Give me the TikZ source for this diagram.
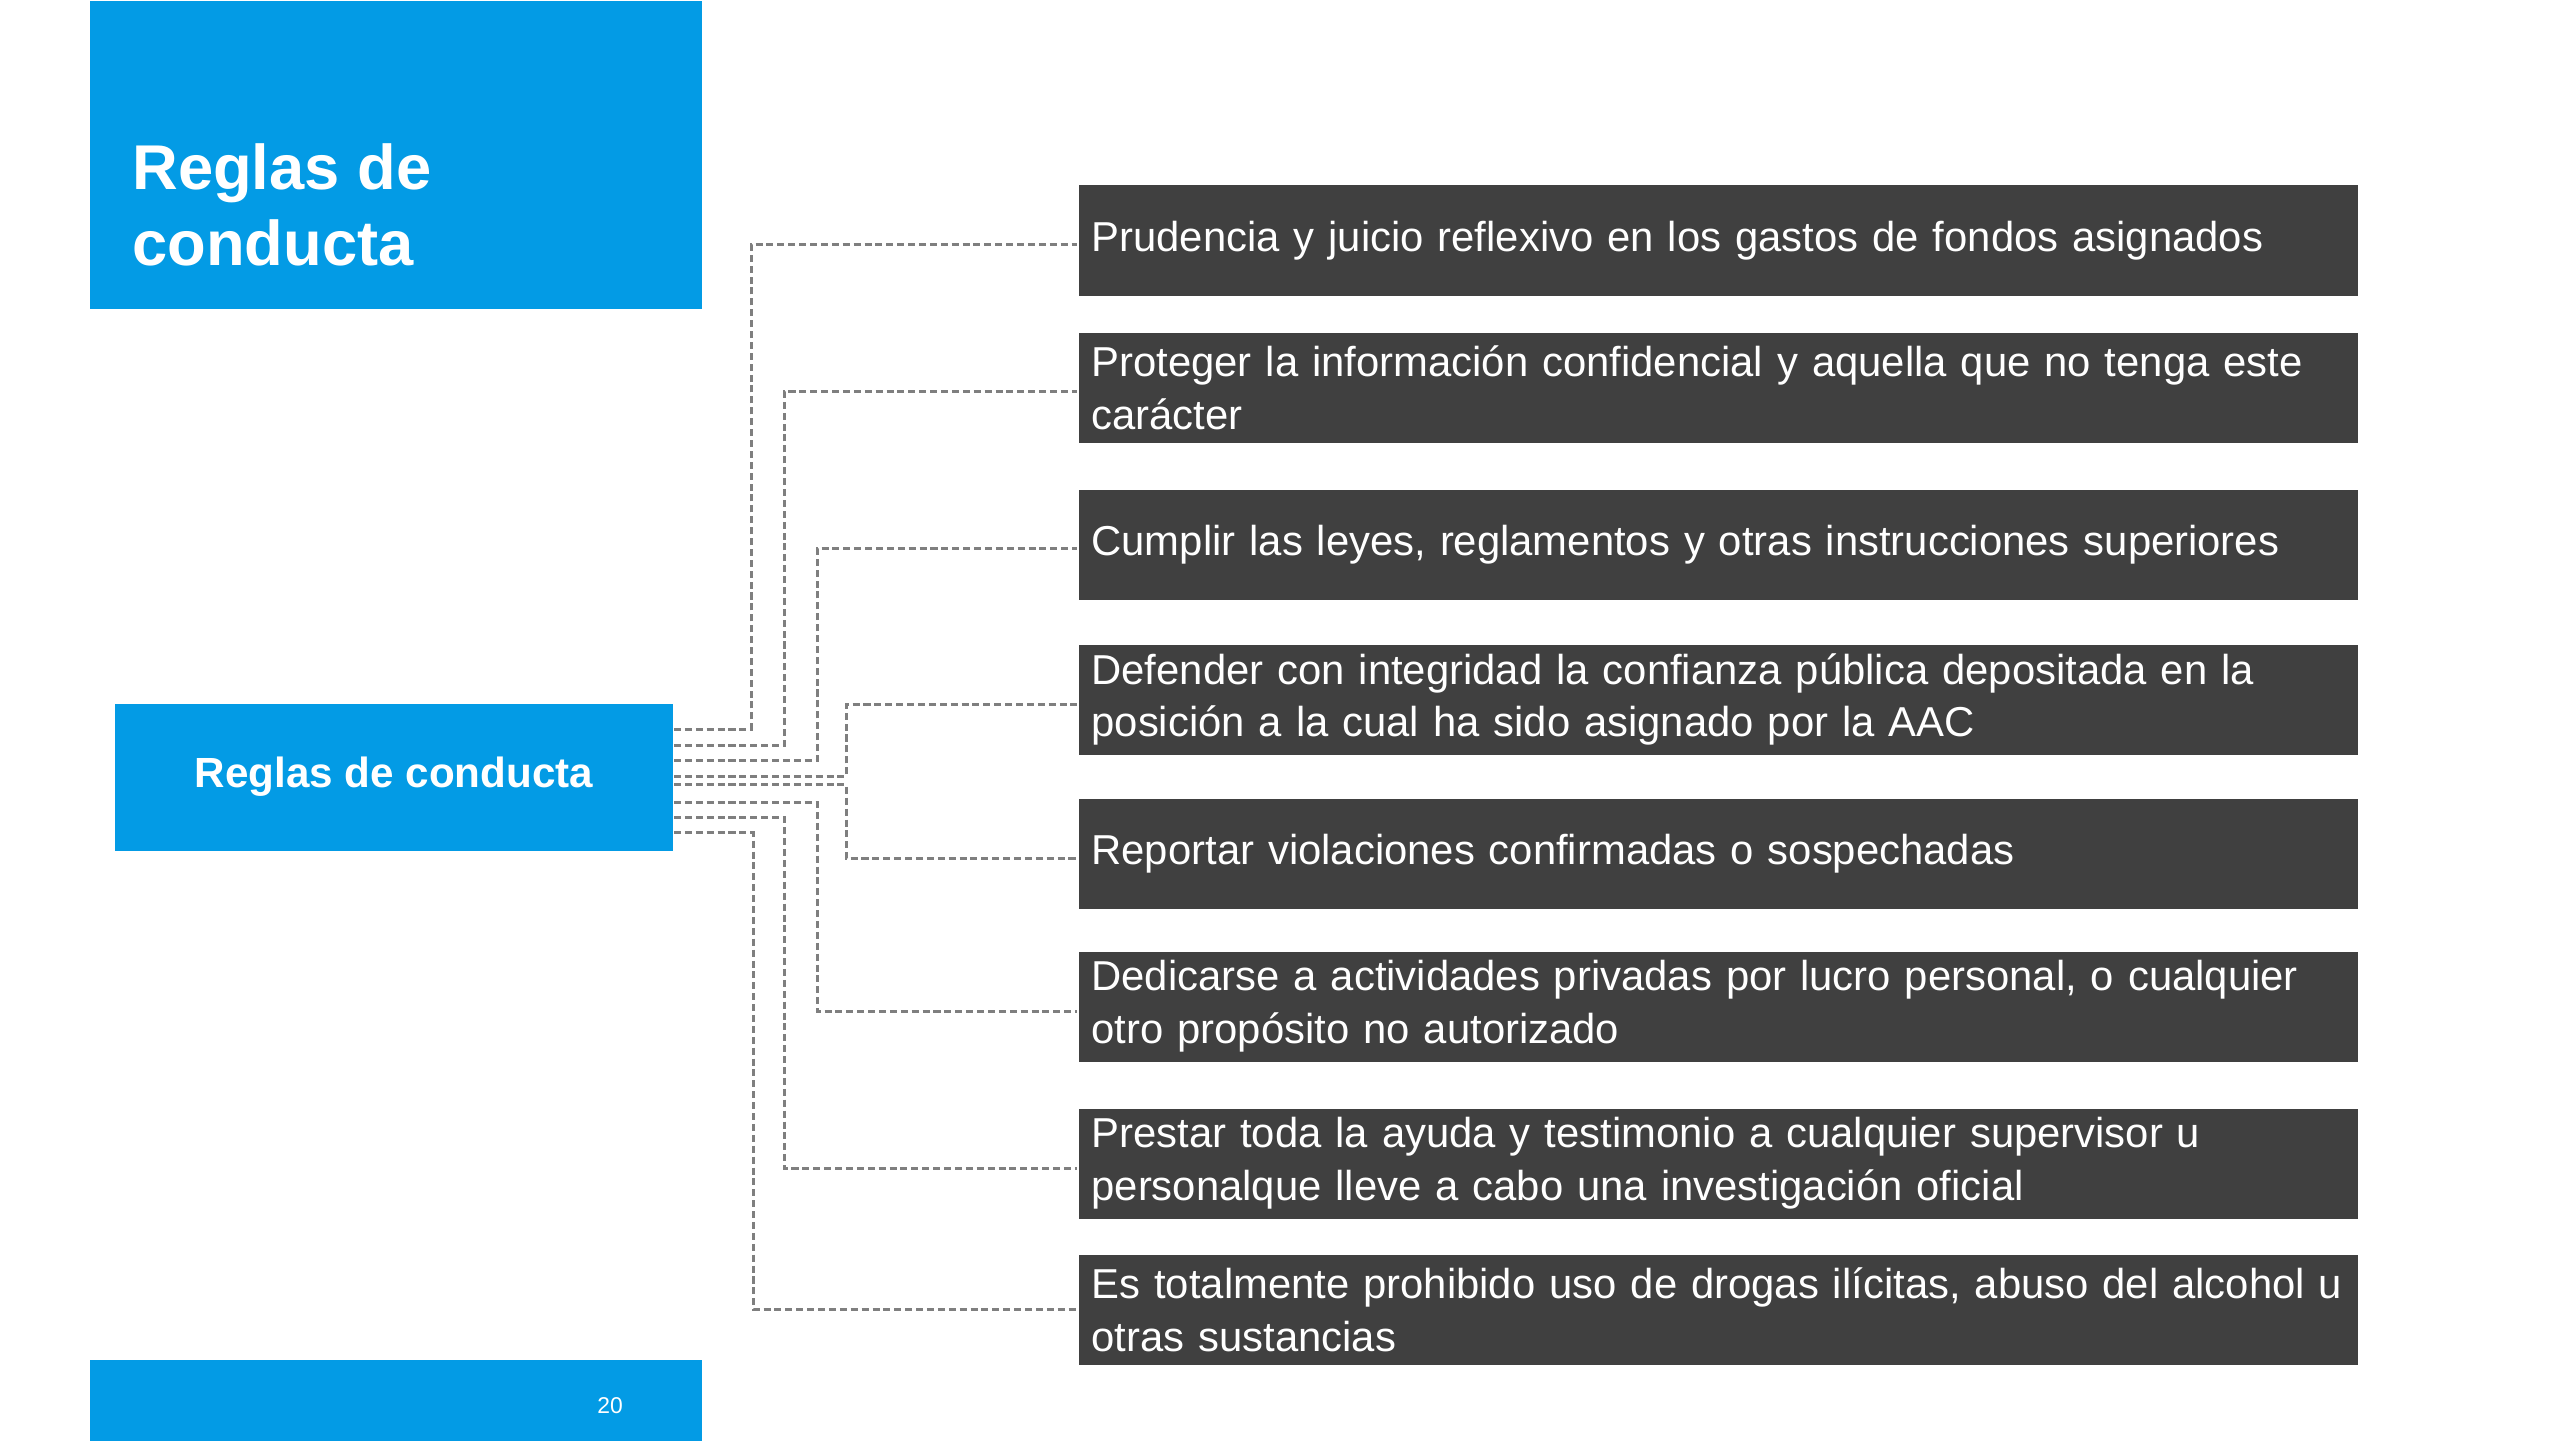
\documentclass[tikz,border=0pt]{standalone}
\usepackage{fontspec}
\setmainfont{Liberation Sans}
\definecolor{azul}{HTML}{039BE5}
\definecolor{gris}{HTML}{404040}
\definecolor{linea}{HTML}{7F7F7F}
\begin{document}
\begin{tikzpicture}[line width=0.85pt,
    azulbox/.style={fill=azul,inner sep=0pt,anchor=north west},
    caja/.style={fill=gris,text=white,anchor=north west,minimum height=1.1cm,inner xsep=1.3mm,inner ysep=0pt,text width=12.53cm,align=left,font=\fontsize{11.9}{15}\selectfont},
    link/.style={draw=linea,dash pattern=on 2pt off 1.1pt}]
    \useasboundingbox (0,0) rectangle (25.6,-14.4);
    \node[azulbox,minimum width=6.11cm,minimum height=3.07cm] (cab) at (0.89,0) {};
    \node[anchor=north west,inner sep=0pt,text=white,align=left,font=\bfseries\fontsize{18}{21.6}\selectfont] (titulo) at (1.31,-1.42) {Reglas de\\conducta};
    \node[azulbox,minimum width=6.11cm,minimum height=0.82cm] (pie) at (0.89,-13.58) {};
    \node[anchor=base,inner sep=0pt,text=white,font=\fontsize{6.5}{8}\selectfont] (num) at (6.10,-14.13) {20};
    \node[azulbox,minimum width=5.57cm,minimum height=1.47cm,text=white,font=\bfseries\fontsize{12}{14}\selectfont] (rc) at (1.14,-7.02) {Reglas de conducta};

    \node[caja] (p1) at (10.77,-1.84) {Prudencia y juicio reflexivo en los gastos de fondos asignados};
    \node[caja] (p2) at (10.77,-3.31) {Proteger la información confidencial y aquella que no tenga este\\carácter};
    \node[caja] (p3) at (10.77,-4.88) {Cumplir las leyes, reglamentos y otras instrucciones superiores};
    \node[caja] (p4) at (10.77,-6.43) {Defender con integridad la confianza pública depositada en la\\posición a la cual ha sido asignado por la AAC};
    \node[caja] (p5) at (10.77,-7.97) {Reportar violaciones confirmadas o sospechadas};
    \node[caja] (p6) at (10.77,-9.50) {Dedicarse a actividades privadas por lucro personal, o cualquier\\otro propósito no autorizado};
    \node[caja] (p7) at (10.77,-11.07) {Prestar toda la ayuda y testimonio a cualquier supervisor u\\personalque lleve a cabo una investigación oficial};
    \node[caja] (p8) at (10.77,-12.53) {\mbox{Es totalmente prohibido uso de drogas ilícitas, abuso del alcohol u}\\otras sustancias};

    \draw[link] ([yshift=4.75mm]rc.east) -| ([xshift=-3.26cm,yshift=-0.4mm]p1.west) -- ([yshift=-0.4mm]p1.west);
    \draw[link] ([yshift=3.15mm]rc.east) -| ([xshift=-2.93cm,yshift=-0.4mm]p2.west) -- ([yshift=-0.4mm]p2.west);
    \draw[link] ([yshift=1.65mm]rc.east) -| ([xshift=-2.60cm,yshift=-0.4mm]p3.west) -- ([yshift=-0.4mm]p3.west);
    \draw[link] ([yshift=0.05mm]rc.east) -| ([xshift=-2.31cm,yshift=-0.5mm]p4.west) -- ([yshift=-0.5mm]p4.west);
    \draw[link] ([yshift=-0.75mm]rc.east) -| ([xshift=-2.31cm,yshift=-0.5mm]p5.west) -- ([yshift=-0.5mm]p5.west);
    \draw[link] ([yshift=-2.55mm]rc.east) -| ([xshift=-2.60cm,yshift=-0.5mm]p6.west) -- ([yshift=-0.5mm]p6.west);
    \draw[link] ([yshift=-4.05mm]rc.east) -| ([xshift=-2.93cm,yshift=-0.5mm]p7.west) -- ([yshift=-0.5mm]p7.west);
    \draw[link] ([yshift=-5.55mm]rc.east) -| ([xshift=-3.24cm]p8.west) -- (p8.west);
\end{tikzpicture}
\end{document}
